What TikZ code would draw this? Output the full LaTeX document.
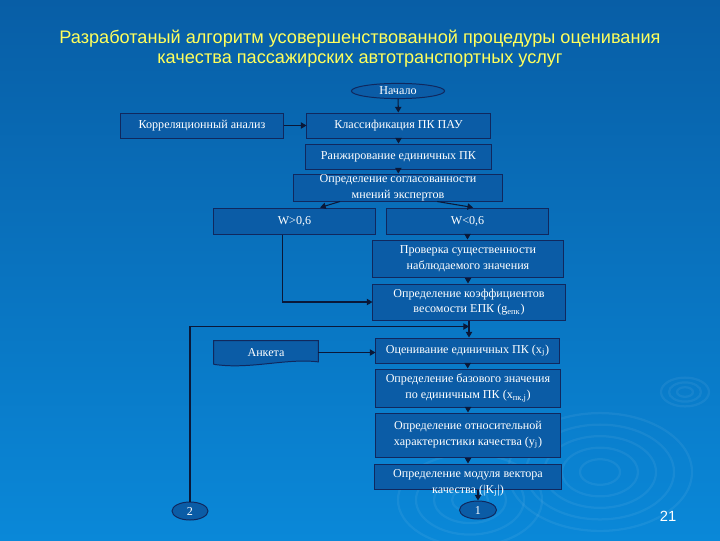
\documentclass[tikz,border=0pt]{standalone}
\usepackage{fontspec}
\setmainfont{Liberation Serif}
\setsansfont{Liberation Sans}
\usepackage{tikz}
\usetikzlibrary{
  arrows.meta,
  calc,
  backgrounds,
  shapes.geometric
}
\pgfdeclarelayer{backdrop}
\pgfsetlayers{backdrop,background,main}
\definecolor{SlideTop}{HTML}{085EA6}
\definecolor{SlideBottom}{HTML}{0A88D8}
\definecolor{BoxFill}{HTML}{0B5CA6}
\definecolor{BoxLine}{HTML}{10285E}
\definecolor{ArrowNavy}{HTML}{0A1838}
\definecolor{TitleYellow}{HTML}{FFFF5C}

\begin{document}
\begin{tikzpicture}[
  x=0.025cm, y=-0.025cm,
  >={Triangle[length=4pt,width=4.5pt]},
  stage/.style={
    rectangle,
    draw=BoxLine,
    fill=BoxFill,
    line width=0.7pt,
    inner sep=0pt,
    align=center,
    text=white,
    font=\fontsize{8.6}{11.2}\selectfont
  },
  terminal/.style={
    ellipse,
    draw=BoxLine,
    fill=BoxFill,
    line width=0.7pt,
    inner sep=0pt,
    text=white,
    font=\fontsize{8.6}{11.2}\selectfont
  },
  caption/.style={
    align=center,
    inner sep=0pt,
    text=white,
    font=\fontsize{8.6}{11.2}\selectfont
  },
  relation/.style={->,draw=ArrowNavy,line width=0.75pt},
  ripple/.style={draw=white,opacity=0.06,line width=1.6pt}
]

\useasboundingbox (0,0) rectangle (720,540);

\begin{pgfonlayer}{backdrop}
  \shade[top color=SlideTop,bottom color=SlideBottom] (0,0) rectangle (720,540);
  \begin{scope}
    \clip (0,0) rectangle (720,540);
    \foreach \r in {20,38,56,74,92}
      \draw[ripple] (600,472) ellipse ({\r*0.025cm} and {\r*0.016cm});
    \foreach \r in {18,36,54,72}
      \draw[ripple] (470,500) ellipse ({\r*0.025cm} and {\r*0.016cm});
    \foreach \r in {8,16,24}
      \draw[ripple] (685,392) ellipse ({\r*0.025cm} and {\r*0.015cm});
  \end{scope}
\end{pgfonlayer}

\node[align=center,text=TitleYellow,font=\sffamily\fontsize{12.9}{14.4}\selectfont]
  (title) at (360,49)
  {Разработаный алгоритм усовершенствованной процедуры оценивания\\
   качества пассажирских автотранспортных услуг};

\node[terminal,minimum width=2.33cm,minimum height=0.38cm] (start) at (398,91) {Начало};
\node[stage,minimum width=4.05cm,minimum height=0.625cm] (corr) at (202,125.5)
  {Корреляционный анализ};
\node[stage,minimum width=4.575cm,minimum height=0.625cm] (classif) at (398.5,125.5)
  {Классификация ПК ПАУ};
\node[stage,minimum width=4.625cm,minimum height=0.625cm] (rank) at (398.5,156.5)
  {Ранжирование единичных ПК};
\node[stage,minimum width=5.2cm,minimum height=0.675cm] (agree) at (398,187.5)
  {Определение согласованности\\мнений экспертов};
\node[stage,minimum width=4.025cm,minimum height=0.65cm] (wgt) at (294.5,221)
  {W>0,6};
\node[stage,minimum width=4.025cm,minimum height=0.65cm] (wlt) at (467.5,221)
  {W<0,6};
\node[stage,minimum width=4.75cm,minimum height=0.925cm] (check) at (468,258.5)
  {Проверка существенности\\наблюдаемого значения};
\node[stage,minimum width=4.8cm,minimum height=0.9cm] (coef) at (469,302)
  {Определение коэффициентов\\весомости ЕПК (g\textsubscript{епк})};
\node[caption,minimum width=2.6cm,minimum height=0.575cm] (survey) at (266,352.5)
  {Анкета};
\node[stage,minimum width=4.575cm,minimum height=0.625cm] (assess) at (467.5,350.5)
  {Оценивание единичных ПК (x\textsubscript{j})};
\node[stage,minimum width=4.6cm,minimum height=0.95cm] (base) at (468,388)
  {Определение базового значения\\по единичным ПК (x\textsubscript{пк,j})};
\node[stage,minimum width=4.6cm,minimum height=1.1cm] (rel) at (468,435)
  {Определение относительной\\характеристики качества (y\textsubscript{j})};
\node[stage,minimum width=4.65cm,minimum height=0.625cm] (modul) at (468,476.5) {};
\node[caption] (modultxt) at (468,483)
  {Определение модуля вектора\\качества (|K\textsubscript{j}|)};
\node[terminal,minimum width=0.925cm,minimum height=0.45cm] (one) at (478,510) {1};
\node[terminal,minimum width=0.9cm,minimum height=0.45cm] (two) at (190,511) {2};

\node[text=white,font=\sffamily\fontsize{10.5}{12}\selectfont] (pagenum) at (668,516) {21};

\begin{pgfonlayer}{background}
  \draw[draw=BoxLine,fill=BoxFill,line width=0.7pt]
    (survey.south west) -- (survey.north west) -- (survey.north east)
    -- ([yshift=0.06cm]survey.south east)
    .. controls ([xshift=-0.8cm,yshift=0.16cm]survey.south east)
       and ([xshift=0.9cm,yshift=-0.14cm]survey.south west) .. (survey.south west);
\end{pgfonlayer}

\coordinate (merge) at ([yshift=-0.15cm]coef.south);

\draw[relation] (start) -- (classif);
\draw[relation] (corr) -- (classif);
\draw[relation] (classif) -- (rank);
\draw[relation] (rank) -- (agree);
\draw[relation] ([xshift=-1.45cm]agree.south) -- ([xshift=0.64cm]wgt.north);
\draw[relation] ([xshift=0.98cm]agree.south) -- ([xshift=0.14cm]wlt.north);
\draw[relation] ([xshift=-0.29cm]wgt.south) |- (coef.west);
\draw[relation] (wlt.south) -- (wlt.south |- check.north);
\draw[relation] (check.south) -- (check.south |- coef.north);
\draw[relation] (coef.south) -- (coef.south |- assess.north);
\draw[relation] (two.north) |- (merge);
\draw[relation] (survey.east) -- (survey.east -| assess.west);
\draw[relation] (assess) -- (base);
\draw[relation] (base) -- (rel);
\draw[relation] (rel) -- (modul);
\draw[relation] (one.north |- modul.south) -- (one.north);
\end{tikzpicture}
\end{document}
